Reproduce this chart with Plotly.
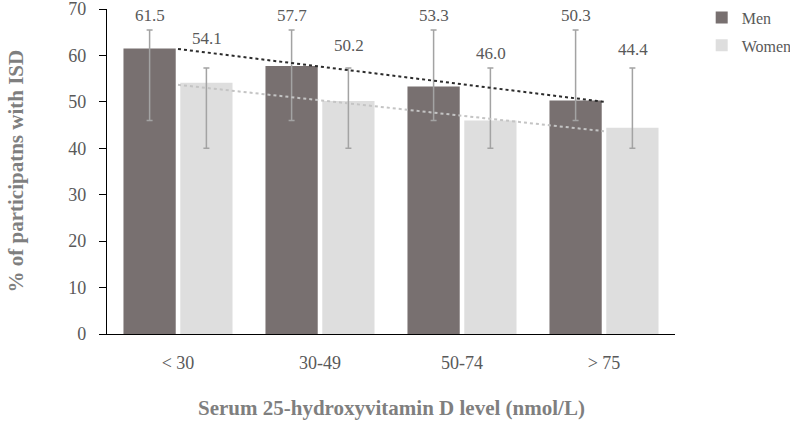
import numpy as np
import plotly.graph_objects as go

categories = ["< 30", "30-49", "50-74", "> 75"]
men = [61.5, 57.7, 53.3, 50.3]
women = [54.1, 50.2, 46.0, 44.4]
men_err_plus = [4.0, 7.8, 12.2, 15.2]
men_err_minus = [15.5, 11.7, 7.3, 4.3]
women_err_plus = [3.2, 7.1, 11.3, 12.9]
women_err_minus = [14.1, 10.2, 6.0, 4.4]
y_ticks = [0, 10, 20, 30, 40, 50, 60, 70]

FONT = "Liberation Serif"
MEN_C = "#787070"
WOMEN_C = "#dedede"
ERR_C = "#a3a3a3"

x = np.arange(len(categories))

fig = go.Figure()
fig.add_trace(go.Bar(
    x=x, y=men, name="Men", marker=dict(color=MEN_C, line=dict(width=0)),
    error_y=dict(type="data", symmetric=False, array=men_err_plus, arrayminus=men_err_minus,
                 color=ERR_C, thickness=1.5, width=3),
    legendgroup="m",
))
fig.add_trace(go.Bar(
    x=x, y=women, name="Women", marker=dict(color=WOMEN_C, line=dict(width=0)),
    error_y=dict(type="data", symmetric=False, array=women_err_plus, arrayminus=women_err_minus,
                 color=ERR_C, thickness=1.5, width=3),
    legendgroup="w",
))

# linear trend lines (Excel-style, over category index)
for vals, col in [(men, "#2b2b2b"), (women, "#c4c4c4")]:
    k, b = np.polyfit(x + 1, vals, 1)
    fig.add_trace(go.Scatter(
        x=[x[0], x[-1]], y=[k * 1 + b, k * len(x) + b], mode="lines",
        line=dict(color=col, width=2, dash="dot"), showlegend=False, hoverinfo="skip",
    ))

# data labels
women_label_y = [63.6, 62.1, 60.4, 61.2]
ann = []
for i, v in enumerate(men):
    ann.append(dict(x=x[i], y=68.6, xref="x", yref="y", text=f"{v:.1f}", showarrow=False,
                    xshift=-28, font=dict(family=FONT, size=17, color="#595959")))
for i, v in enumerate(women):
    ann.append(dict(x=x[i], y=women_label_y[i], xref="x", yref="y", text=f"{v:.1f}", showarrow=False,
                    xshift=29, font=dict(family=FONT, size=17, color="#595959")))
# axis titles
ann.append(dict(x=0.5, y=0, xref="paper", yref="paper", yshift=-74, text="<b>Serum 25-hydroxyvitamin D level (nmol/L)</b>",
                showarrow=False, font=dict(family=FONT, size=21, color="#7f7f7f"), yanchor="middle"))
ann.append(dict(x=0, y=0.5, xref="paper", yref="paper", xshift=-92, text="<b>% of participatns with ISD</b>",
                textangle=-90, showarrow=False, font=dict(family=FONT, size=21, color="#7f7f7f"), xanchor="center"))

fig.update_layout(
    width=790, height=424,
    margin=dict(l=107, r=115, t=9, b=90, autoexpand=False),
    paper_bgcolor="white", plot_bgcolor="white",
    barmode="group", bargap=0.2, bargroupgap=0.08,
    font=dict(family=FONT, size=16, color="#595959"),
    annotations=ann,
    legend=dict(x=1.047, y=1.026, xanchor="left", yanchor="top", font=dict(family=FONT, size=16, color="#595959"),
                tracegroupgap=4, itemwidth=30, bgcolor="rgba(0,0,0,0)"),
    showlegend=True,
)
fig.update_xaxes(
    range=[-0.5, len(categories) - 0.5], tickvals=x, ticktext=categories, automargin=False,
    showline=True, linecolor="black", linewidth=1.3, ticks="", showgrid=False, zeroline=False,
    tickfont=dict(family=FONT, size=18, color="#595959"), ticklabelstandoff=12,
)
fig.update_yaxes(
    range=[0, 70.001], tickvals=y_ticks, showline=True, linecolor="black", linewidth=1.3, automargin=False,
    ticks="outside", ticklen=7, tickcolor="black", showgrid=False, zeroline=False,
    tickfont=dict(family=FONT, size=18, color="#595959"), ticklabelstandoff=9,
    ticklabeloverflow="allow",
)

fig.write_html("out.html", config={"displayModeBar": False},
               post_script="document.body.style.margin='0';")
